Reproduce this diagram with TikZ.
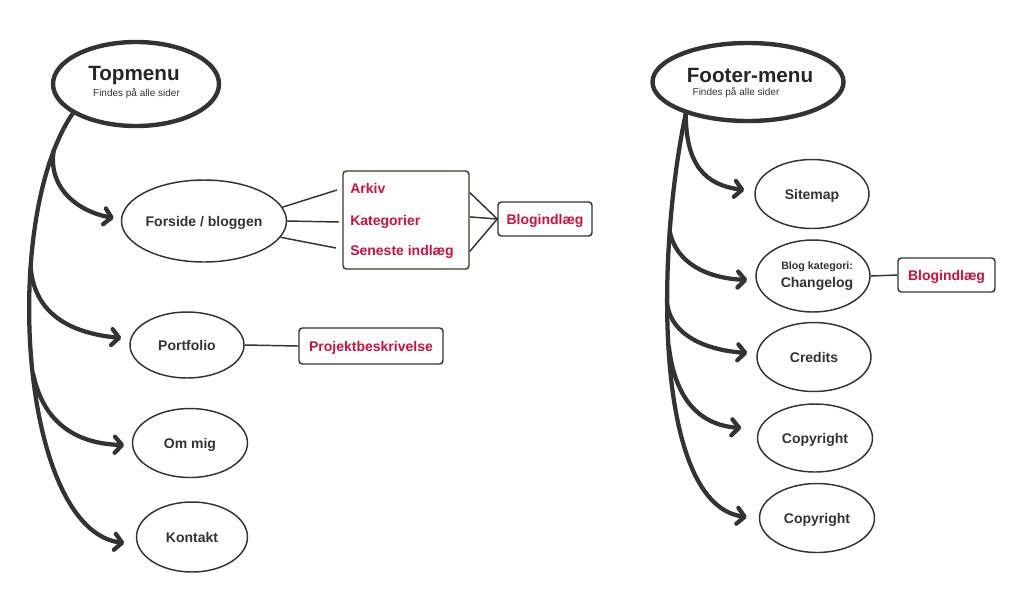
\documentclass[tikz,border=0pt]{standalone}
\usepackage{fontspec}
\setmainfont{Liberation Sans}
\usetikzlibrary{arrows.meta,shapes.geometric,calc}
\definecolor{dk}{RGB}{51,51,51}
\definecolor{redtxt}{RGB}{208,16,60}
\definecolor{olivebox}{RGB}{60,60,35}
\begin{document}
\begin{tikzpicture}[x=0.75pt,y=-0.75pt,
  bigel/.style={ellipse, draw=dk, line width=3.3pt, inner sep=0pt},
  el/.style={ellipse, draw=dk, line width=1.1pt, inner sep=0pt, text=dk,
    font=\fontsize{10.5}{12}\selectfont\bfseries, text height=7.5pt, text depth=0pt},
  plaintxt/.style={rectangle, inner sep=0pt, text=dk,
    font=\fontsize{10.5}{12}\selectfont\bfseries, text height=7.5pt, text depth=0pt},
  box/.style={rectangle, rounded corners=2.5pt, draw=dk, line width=1.1pt, inner sep=0pt},
  rlbl/.style={font=\fontsize{10.5}{12}\selectfont\bfseries, text=redtxt, inner sep=0pt, text height=7.5pt, text depth=0pt},
  titletxt/.style={font=\fontsize{15.5}{18}\selectfont\bfseries, text=black!85, inner sep=0pt},
  subtxt/.style={font=\fontsize{7.5}{9}\selectfont, text=dk, inner sep=0pt},
  smalltxt/.style={font=\fontsize{8}{9}\selectfont\bfseries, text=dk, inner sep=0pt},
  arr/.style={draw=dk, line width=3.2pt, line cap=round, -{Straight Barb[length=5.5pt,width=12pt,round]}},
  conn/.style={draw=dk, line width=1.1pt}]
\fill[white] (0,0) rectangle (1024,590);
\useasboundingbox (0,0) rectangle (1024,590);

% ---- left: Topmenu
\node[bigel, minimum width=166*0.75pt, minimum height=84*0.75pt] (top) at (136,84) {};
\node[titletxt] (toptitle) at (134,76) {Topmenu};
\node[subtxt] (topsub) at (136.5,94) {Findes på alle sider};

\node[el, minimum width=160*0.75pt, minimum height=82*0.75pt] (forside) at (204,221) {Forside / bloggen};
\node[el, minimum width=114*0.75pt, minimum height=66*0.75pt] (portfolio) at (187,345) {Portfolio};
\node[el, minimum width=115*0.75pt, minimum height=69*0.75pt] (ommig) at (190,443) {Om mig};
\node[el, minimum width=111*0.75pt, minimum height=70*0.75pt] (kontakt) at (192,537) {Kontakt};

\node[box, draw=olivebox, minimum width=126*0.75pt, minimum height=98*0.75pt] (listbox) at (406,220) {};
\node[rlbl, anchor=west] (arkiv) at (350,188) {Arkiv};
\node[rlbl, anchor=west] (kategorier) at (350,220) {Kategorier};
\node[rlbl, anchor=west] (seneste) at (350,250) {Seneste indlæg};
\node[box, rlbl, draw=dk, minimum width=94*0.75pt, minimum height=34*0.75pt] (blogA) at (545,219) {Blogindlæg};
\node[box, rlbl, draw=dk, minimum width=144*0.75pt, minimum height=36*0.75pt] (projekt) at (371,346) {Projektbeskrivelse};

% ---- right: Footer-menu
\node[bigel, minimum width=191*0.75pt, minimum height=78*0.75pt] (foot) at (748,82) {};
\node[titletxt] (foottitle) at (750,75) {Footer-menu};
\node[subtxt] (footsub) at (736,93) {Findes på alle sider};

\node[el, minimum width=114*0.75pt, minimum height=69*0.75pt] (sitemap) at (812,194) {Sitemap};
\node[el, minimum width=114*0.75pt, minimum height=72*0.75pt] (blogkat) at (813,276) {};
\node[smalltxt, anchor=west] (blogkatA) at (781,267) {Blog kategori:};
\node[plaintxt, anchor=west] (blogkatB) at (780.5,282) {Changelog};
\node[el, minimum width=114*0.75pt, minimum height=69*0.75pt] (credits) at (814,357) {Credits};
\node[el, minimum width=115*0.75pt, minimum height=68*0.75pt] (copyA) at (815,438) {Copyright};
\node[el, minimum width=115*0.75pt, minimum height=69*0.75pt] (copyB) at (817,518) {Copyright};
\node[box, rlbl, draw=dk, minimum width=97*0.75pt, minimum height=34*0.75pt] (blogB) at (946.5,275) {Blogindlæg};

% ---- thin connectors
\coordinate (a1) at ($(arkiv.west)+(-13,2)$);
\coordinate (a2) at ($(kategorier.west)+(-11,2)$);
\coordinate (a3) at ($(seneste.west)+(-14,-2)$);
\draw[conn] (forside.10) -- (a1);
\draw[conn] (forside.0) -- (a2);
\draw[conn] (forside.-12) -- (a3);
\draw[conn] ($(listbox.north east)!0.224!(listbox.south east)$) -- (blogA.west);
\draw[conn] ($(listbox.north east)!0.469!(listbox.south east)$) -- (blogA.west);
\draw[conn] ($(listbox.north east)!0.816!(listbox.south east)$) -- (blogA.west);
\draw[conn] (portfolio.east) -- (projekt.west);
\draw[conn] (blogkat.east) -- (blogB.west);

% ---- left thick arrows
\coordinate (t1) at ($(forside.west)+(-7,-3)$);
\coordinate (t2) at ($(portfolio.west)+(-8,-7)$);
\coordinate (t3) at ($(ommig.west)+(-7.5,2)$);
\coordinate (t4) at ($(kontakt.west)+(-11.5,6)$);
\draw[arr] (top.205) .. controls (0,220) and (20,530) .. (t4)
  coordinate[pos=0.1] (b1) coordinate[pos=0.33] (b2) coordinate[pos=0.52] (b3);
\draw[arr] (b1) .. controls (48,190) and (80,212) .. (t1);
\draw[arr] (b2) .. controls (35,320) and (80,334) .. (t2);
\draw[arr] (b3) .. controls (45,430) and (85,444) .. (t3);

% ---- right thick arrows
\coordinate (s1) at ($(sitemap.west)+(-10,-4)$);
\coordinate (s2) at ($(blogkat.west)+(-8,4)$);
\coordinate (s3) at ($(credits.west)+(-9,-4)$);
\coordinate (s4) at ($(copyA.west)+(-15.5,-10)$);
\coordinate (s5) at ($(copyB.west)+(-12,-1)$);
\draw[arr] (foot.207) .. controls (655,260) and (655,505) .. (s5)
  coordinate[pos=0.24] (c2) coordinate[pos=0.38] (c3) coordinate[pos=0.46] (c4);
\draw[arr] (foot.207) .. controls (686,165) and (705,185) .. (s1);
\draw[arr] (c2) .. controls (676,262) and (705,278) .. (s2);
\draw[arr] (c3) .. controls (672,335) and (705,350) .. (s3);
\draw[arr] (c4) .. controls (675,400) and (700,425) .. (s4);
\end{tikzpicture}
\end{document}
